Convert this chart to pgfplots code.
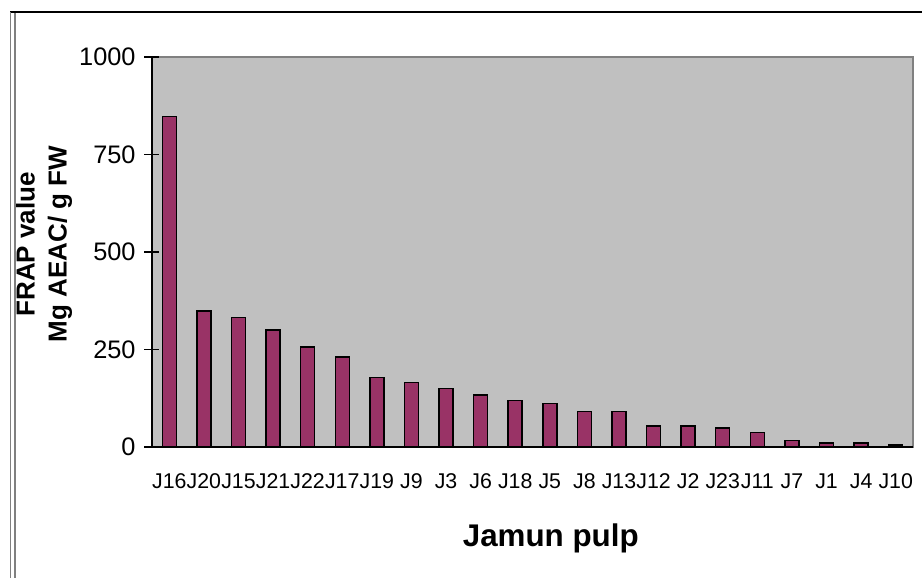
\documentclass[border=0pt]{standalone}
\usepackage{fontspec}
\setmainfont{Liberation Sans}
\usepackage{pgfplots}
\pgfplotsset{compat=1.18}
\definecolor{barc}{RGB}{153,51,102}
\definecolor{bgc}{RGB}{192,192,192}
\definecolor{frc}{RGB}{128,128,128}
\begin{document}
\begin{tikzpicture}[x=0.75pt,y=0.75pt]
\begin{axis}[
  at={(114pt,98.25pt)}, anchor=south west,
  scale only axis, width=570.75pt, height=292.5pt,
  xmin=-0.5, xmax=21.5, ymin=0, ymax=1000,
  axis background/.style={fill=bgc, draw=frc, line width=1.2pt},
  axis x line*=bottom, axis y line*=left,
  axis line style={-, black, line width=0.9pt},
  tick align=center,
  major tick length=11.25pt, minor tick length=12pt,
  tick style={black, line width=0.9pt},
  xtick={0,...,21},
  xticklabels={J16,J20,J15,J21,J22,J17,J19,J9,J3,J6,J18,J5,J8,J13,J12,J2,J23,J11,J7,J1,J4,J10},
  x tick style={draw=none},
  minor xtick={-0.5,0.5,...,21.5},
  minor x tick style={black, line width=0.9pt},
  ytick={0,250,500,750,1000},
  /pgf/number format/assume math mode=true,
  /pgf/number format/1000 sep={},
  xticklabel style={font=\fontsize{16}{18}\selectfont, anchor=north, inner sep=0pt, yshift=-14.5pt},
  yticklabel style={font=\fontsize{19}{22}\selectfont, anchor=east, inner sep=0pt, xshift=-6.5pt},
  xlabel={Jamun pulp},
  ylabel={FRAP value\\Mg AEAC/ g FW},
  every axis x label/.style={at={(axis description cs:0.524,-0.2557)}, anchor=base, font=\bfseries\fontsize{23.5}{26}\selectfont},
  every axis y label/.style={at={(axis description cs:-0.142,0.52)}, anchor=center, rotate=90, align=center, font=\bfseries\fontsize{19.5}{24}\selectfont},
  clip=false,
]
\addplot[ybar, bar width=10.5pt, fill=barc, draw=black, line width=1.1pt] coordinates {
(0,847) (1,349) (2,332) (3,300) (4,257) (5,231) (6,178) (7,166) (8,150) (9,133) (10,119)
(11,112) (12,90.5) (13,90.5) (14,54) (15,54) (16,49) (17,37) (18,16) (19,10) (20,10) (21,5)
};
\end{axis}
\pgfresetboundingbox
\useasboundingbox (0,0) rectangle (922,578);
\draw[black, line width=1.3pt] (10,566) -- (922,566);
\draw[frc, line width=1.3pt] (10.5,0) -- (10.5,566);
\draw[frc, line width=1.3pt] (15,0) -- (15,565);
\end{tikzpicture}
\end{document}
